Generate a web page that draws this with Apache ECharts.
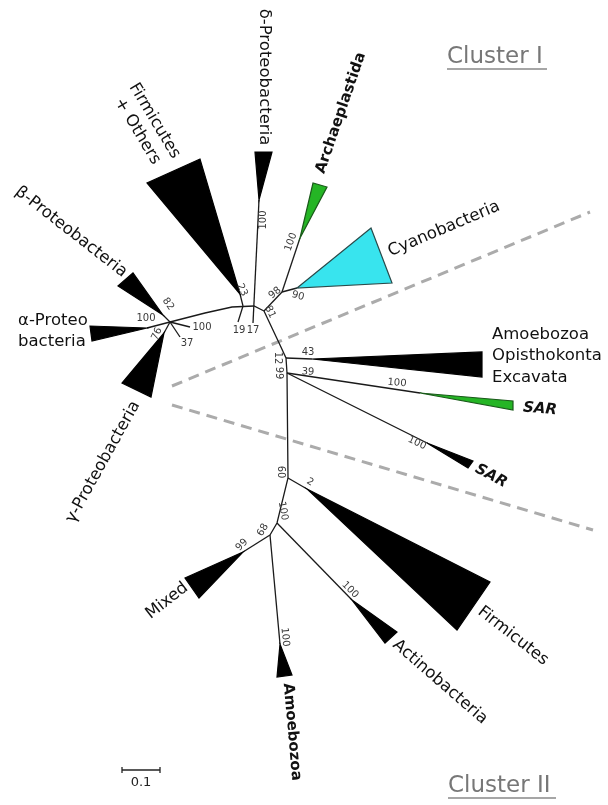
<!DOCTYPE html>
<html><head><meta charset="utf-8">
<script src="https://cdn.jsdelivr.net/npm/echarts@6/dist/echarts.min.js"></script>
<style>html,body{margin:0;padding:0;background:#fff}#c{width:608px;height:805px}</style>
</head><body><div id="c"></div>
<script>
// ---- Tree data (layout units; 38 units = 0.1 substitutions/site) ----
const branchPaths = [
  [[264,311],[272,328],[280,345],[286,358],[287,373],[288,478],[277,523],[270,535]],
  [[170,322],[205,313],[232,307],[254,306],[264,311]],
  [[170,322],[163,315]],
  [[170,322],[147,328]],
  [[170,322],[164,333]],
  [[170,322],[190,327]],
  [[170,322],[180,337]],
  [[243,306],[240,294]],
  [[243,306],[238,322]],
  [[253,323],[259,200]],
  [[264,311],[282,292]],
  [[282,292],[300,238]],
  [[282,292],[297,288]],
  [[286,358],[312,359]],
  [[287,373],[420,393]],
  [[287,373],[427,443]],
  [[288,478],[307,489]],
  [[277,523],[352,600]],
  [[270,535],[243,552]],
  [[270,535],[280,644]]
];
const cladeNames = ['β-Proteobacteria','α-Proteobacteria','γ-Proteobacteria','Firmicutes + Others','δ-Proteobacteria','Archaeplastida','Cyanobacteria','Amoebozoa/Opisthokonta/Excavata','SAR (green)','SAR','Firmicutes','Actinobacteria','Mixed','Amoebozoa'];
const cladeApex  = [[163,315],[147,328],[164,333],[240,294],[259,200],[300,238],[297,288],[312,359],[420,393],[427,443],[307,489],[352,600],[243,552],[280,644]];
const cladeEdgeA = [[133,273],[90,326],[122,383],[147,183],[255,152],[313,183],[371,228],[482,352],[513,401],[468,468],[490,582],[397,632],[185,578],[277,677]];
const cladeEdgeB = [[118,286],[92,341],[151,397],[200,159],[272,152],[327,187],[392,283],[482,377],[513,410],[473,461],[457,630],[385,643],[199,598],[292,675]];
const cladeKind  = ['k','k','k','k','k','g','c','k','g','k','k','k','k','k'];

const bootValues = ['82','100','76','100','37','23','19','17','100','81','98','100','90','12','99','43','39','100','100','60','2','100','100','68','99','100'];
const bootAt = [[168,304],[146,318],[157,334],[202,327],[187,343],[242,290],[239,330],[253,330],[263,220],[270,312],[275,293],[291,242],[298,296],[278,358],[279,373],[308,352],[308,372],[397,383],[417,443],[281,472],[310,482],[283,511],[350,590],[263,530],[242,545],[285,637]];
const bootRot = [-55,0,65,0,0,-65,0,0,90,-65,40,70,-15,-90,-90,0,-3,-5,-25,-90,-30,-80,-45,60,45,-85];

const labelTexts = ['δ-Proteobacteria','Firmicutes\n+ Others','β-Proteobacteria','α-Proteo\nbacteria','γ-Proteobacteria','Archaeplastida','Cyanobacteria','Amoebozoa\nOpisthokonta\nExcavata','SAR','SAR','Firmicutes','Actinobacteria','Mixed','Amoebozoa'];
const labelAt = [[264,77],[146,126],[71,232],[18,331],[103,462],[341,113],[444,229],[492,356],[540,409],[491,476],[513,636],[440,682],[167,601],[292,732]];
const labelRot = [-90,-59,-38,0,61,71,23,0,-5,-28,-38,-41,38,-85];
const labelKind = ['n','n','n','nl','n','b','n','nl','bi','bi','n','n','n','b'];

const separators = [[[172,386],[590,212]],[[172,405],[593,530]]];
const clusterNames = ['Cluster I','Cluster II'];
const clusterAt = [[447,57],[448,786]];
const scaleBar = {from:[122,770], to:[160,770], label:'0.1'};

// ---- Styles ----
const FONT = '"DejaVu Sans", Verdana, sans-serif';
const fills = {k:'#000', g:'#25b525', c:'#38e4ee'};
const strokes = {k:'#000', g:'#1a5a1a', c:'#2a4a4a'};
const labelFont = {
  n:'16.5px ' + FONT, nl:'16.5px ' + FONT, b:'bold 15px ' + FONT, bi:'italic bold 15px ' + FONT
};

const chart = echarts.init(document.getElementById('c'), null, {renderer:'canvas'});
const rad = d => d * Math.PI / 180;

chart.setOption({
  animation:false,
  backgroundColor:'#fff',
  grid:{left:0,right:0,top:0,bottom:0},
  xAxis:{type:'value',min:0,max:608,show:false},
  yAxis:{type:'value',min:0,max:805,inverse:true,show:false},
  series:[
    {
      type:'lines', coordinateSystem:'cartesian2d', silent:true,
      data: separators.map(s => ({coords:s})),
      lineStyle:{color:'#ababab', width:3, type:[11,7], opacity:1}
    },
    {
      type:'lines', coordinateSystem:'cartesian2d', polyline:true, silent:true,
      data: branchPaths.map(p => ({coords:p})),
      lineStyle:{color:'#1a1a1a', width:1.3, opacity:1}
    },
    {
      type:'custom', coordinateSystem:'cartesian2d', silent:true,
      data: cladeApex.map((a,i) => [a[0], a[1], i]),
      renderItem:(params, api) => {
        const i = api.value(2);
        const k = cladeKind[i];
        return {type:'polygon', shape:{points:[api.coord(cladeApex[i]), api.coord(cladeEdgeA[i]), api.coord(cladeEdgeB[i])]},
          style:{fill:fills[k], stroke:strokes[k], lineWidth:1.2, lineJoin:'miter'}};
      }
    },
    {
      type:'custom', coordinateSystem:'cartesian2d', silent:true,
      data: bootAt.map((a,i) => [a[0], a[1], i]),
      renderItem:(params, api) => {
        const i = api.value(2);
        const p = api.coord(bootAt[i]);
        return {type:'text', x:p[0], y:p[1], rotation:rad(bootRot[i]),
          style:{text:bootValues[i], fill:'#3a3a3a', font:'10px ' + FONT, align:'center', verticalAlign:'middle'}};
      }
    },
    {
      type:'custom', coordinateSystem:'cartesian2d', silent:true,
      data: labelAt.map((a,i) => [a[0], a[1], i]),
      renderItem:(params, api) => {
        const i = api.value(2);
        const p = api.coord(labelAt[i]);
        const k = labelKind[i];
        return {type:'text', x:p[0], y:p[1], rotation:rad(labelRot[i]),
          style:{text:labelTexts[i], fill:'#111', font:labelFont[k], lineHeight: k==='nl' ? 21.5 : 20,
            align: k==='nl' ? 'left' : 'center', verticalAlign:'middle'}};
      }
    },
    {
      type:'custom', coordinateSystem:'cartesian2d', silent:true,
      data: clusterAt.map((a,i) => [a[0], a[1], i]),
      renderItem:(params, api) => {
        const i = api.value(2);
        const p = api.coord(clusterAt[i]);
        const w = echarts.format.getTextRect ? null : null;
        return {type:'group', children:[
          {type:'text', x:p[0], y:p[1], style:{text:clusterNames[i], fill:'#777', font:'23px ' + FONT, align:'left', verticalAlign:'middle'}},
          {type:'line', shape:{x1:p[0], y1:p[1]+12, x2:p[0] + (i===0 ? 100 : 108), y2:p[1]+12}, style:{stroke:'#888', lineWidth:1.5}}
        ]};
      }
    },
    {
      type:'custom', coordinateSystem:'cartesian2d', silent:true,
      data: [[scaleBar.from[0], scaleBar.from[1]]],
      renderItem:(params, api) => {
        const a = api.coord(scaleBar.from), b = api.coord(scaleBar.to);
        return {type:'group', children:[
          {type:'line', shape:{x1:a[0], y1:a[1], x2:b[0], y2:b[1]}, style:{stroke:'#222', lineWidth:1.3}},
          {type:'line', shape:{x1:a[0], y1:a[1]-3, x2:a[0], y2:a[1]+3}, style:{stroke:'#222', lineWidth:1.3}},
          {type:'line', shape:{x1:b[0], y1:b[1]-3, x2:b[0], y2:b[1]+3}, style:{stroke:'#222', lineWidth:1.3}},
          {type:'text', x:(a[0]+b[0])/2, y:a[1]+13, style:{text:scaleBar.label, fill:'#222', font:'13px ' + FONT, align:'center', verticalAlign:'middle'}}
        ]};
      }
    }
  ]
});
</script></body></html>
